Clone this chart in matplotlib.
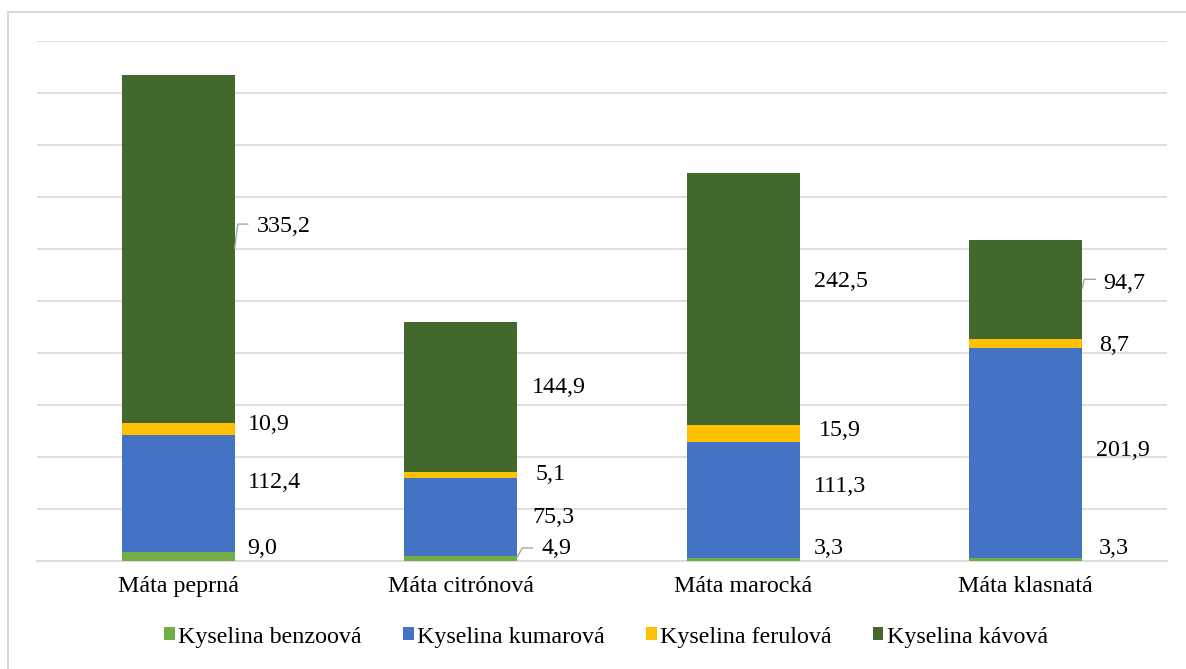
import numpy as np
import matplotlib.pyplot as plt
from matplotlib.lines import Line2D
import matplotlib.transforms as mtransforms

plt.rcParams['font.family'] = ['Liberation Serif', 'DejaVu Serif']

druhy = ['Máta peprná', 'Máta citrónová', 'Máta marocká', 'Máta klasnatá']
kyseliny = ['Kyselina benzoová', 'Kyselina kumarová', 'Kyselina ferulová', 'Kyselina kávová']
benzoova = [9.0, 4.9, 3.3, 3.3]
kumarova = [112.4, 75.3, 111.3, 201.9]
ferulova = [10.9, 5.1, 15.9, 8.7]
kavova = [335.2, 144.9, 242.5, 94.7]
barvy = ['#70AD47', '#4472C4', '#FFC000', '#43682B']

# posun popisku (px) vuci stredu useku: (dx, dy)
posuny = [
    [(13, 8), (13, 11), (13, 5), (22, 23)],
    [(24, 10), (15, -1), (18, 0), (15, 9)],
    [(14, 11), (14, 13), (19, 3), (14, 18)],
    [(17, 11), (14, 2), (17, -2), (21, 6)],
]
# vodici cary (px) od okraje sloupce k popisku
vodici = {(0, 3): [(0, 1), (3, 25), (13, 25)],
          (1, 0): [(0, 1.5), (5, 10.5), (15, 10.5)],
          (3, 3): [(0, 1), (2, 10), (13, 10)]}

W, H = 1186, 669
fs = 17.3
fig = plt.figure(figsize=(W / 100, H / 100), dpi=100)
ax = fig.add_axes([37 / W, 1 - 561 / H, 1130 / W, 520 / H])
ax.set_xlim(-0.5, 3.5)
ax.set_ylim(0, 500)
ax.set_autoscale_on(False)

x = np.arange(len(druhy))
sirka = 0.4
serie = [benzoova, kumarova, ferulova, kavova]
spodek = np.zeros(len(druhy))
for j, (hodnoty, barva, nazev) in enumerate(zip(serie, barvy, kyseliny)):
    hodnoty = np.array(hodnoty)
    ax.bar(x, hodnoty, sirka, bottom=spodek, color=barva, label=nazev, zorder=3)
    for i in range(len(druhy)):
        stred = spodek[i] + hodnoty[i] / 2
        xr = x[i] + sirka / 2
        dx, dy = posuny[i][j]
        ax.annotate(f'{hodnoty[i]:.1f}'.replace('.', ','), xy=(xr, stred),
                    xytext=(dx, dy), textcoords='offset pixels',
                    ha='left', va='center', fontsize=fs, zorder=4)
        if (i, j) in vodici:
            xs, ys = [], []
            for px, py in vodici[(i, j)]:
                t = mtransforms.offset_copy(ax.transData, fig=fig, x=px, y=py, units='dots')
                bx, by = ax.transData.inverted().transform(t.transform((xr, stred)))
                xs.append(bx)
                ys.append(by)
            ax.plot(xs, ys, color='#A6A6A6', lw=1, zorder=4, clip_on=False)
    spodek = spodek + hodnoty

ax.set_yticks(np.arange(0, 501, 50))
ax.yaxis.grid(True, color='#D9D9D9', lw=1.2, zorder=0)
ax.set_yticklabels([])
ax.tick_params(axis='both', length=0)
ax.tick_params(axis='x', pad=11, labelsize=fs)
ax.set_xticks(x)
ax.set_xticklabels(druhy)
for s in ['top', 'right', 'left']:
    ax.spines[s].set_visible(False)
ax.spines['bottom'].set_color('#D9D9D9')
ax.spines['bottom'].set_linewidth(1.2)

fig.legend(loc='center', bbox_to_anchor=(606 / W, 1 - 637 / H), ncol=4, frameon=False,
           fontsize=fs, handlelength=0.45, handleheight=0.45, handletextpad=0.15,
           columnspacing=1.7, borderaxespad=0)

# ramecek grafu
fig.add_artist(Line2D([8 / W, 1], [1 - 12 / H, 1 - 12 / H], color='#D9D9D9', lw=1.5))
fig.add_artist(Line2D([8 / W, 8 / W], [0, 1 - 12 / H], color='#D9D9D9', lw=1.5))

fig.savefig('out.png', dpi=100, facecolor='white')
